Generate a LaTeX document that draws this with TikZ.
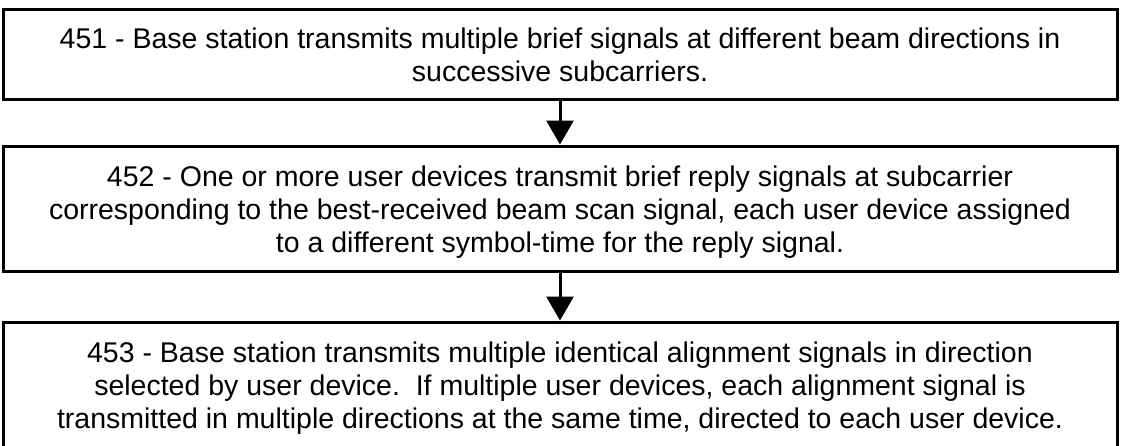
\documentclass[tikz,border=0pt]{standalone}
\usepackage{fontspec}
\setmainfont{Liberation Sans}
\usetikzlibrary{arrows.meta}
\newcommand{\topstrut}{\rule{0pt}{30pt}}
\newcommand{\botstrut}{\rule[-8pt]{0pt}{8pt}}
\frenchspacing
\begin{document}
\begin{tikzpicture}[x=1pt,y=-1pt,
  stepbox/.style={draw=black, line width=3pt, minimum width=1114pt, inner sep=0pt,
    align=center, font=\fontsize{28.5}{33}\selectfont, text=black},
  flow/.style={line width=3pt, -{Triangle[length=24pt,width=27pt]}}]
\useasboundingbox (0,0) rectangle (1125,445);
\node[stepbox, minimum height=90pt] (s451) at (560,54)
  {\topstrut 451 - Base station transmits multiple brief signals at different beam directions in\\
   successive subcarriers.\botstrut};
\node[stepbox, minimum height=125pt] (s452) at (560,208.5)
  {\topstrut 452 - One or more user devices transmit brief reply signals at subcarrier\\
   corresponding to the best-received beam scan signal, each user device assigned\\
   to a different symbol-time for the reply signal.\botstrut};
\node[stepbox, minimum height=125pt] (s453) at (560,384.5)
  {\topstrut 453 - Base station transmits multiple identical alignment signals in direction\\
   selected by user device.\ \ If multiple user devices, each alignment signal is\\
   transmitted in multiple directions at the same time, directed to each user device.\botstrut};
\draw[flow] (s451) -- (s452);
\draw[flow] (s452) -- (s453);
\end{tikzpicture}
\end{document}
